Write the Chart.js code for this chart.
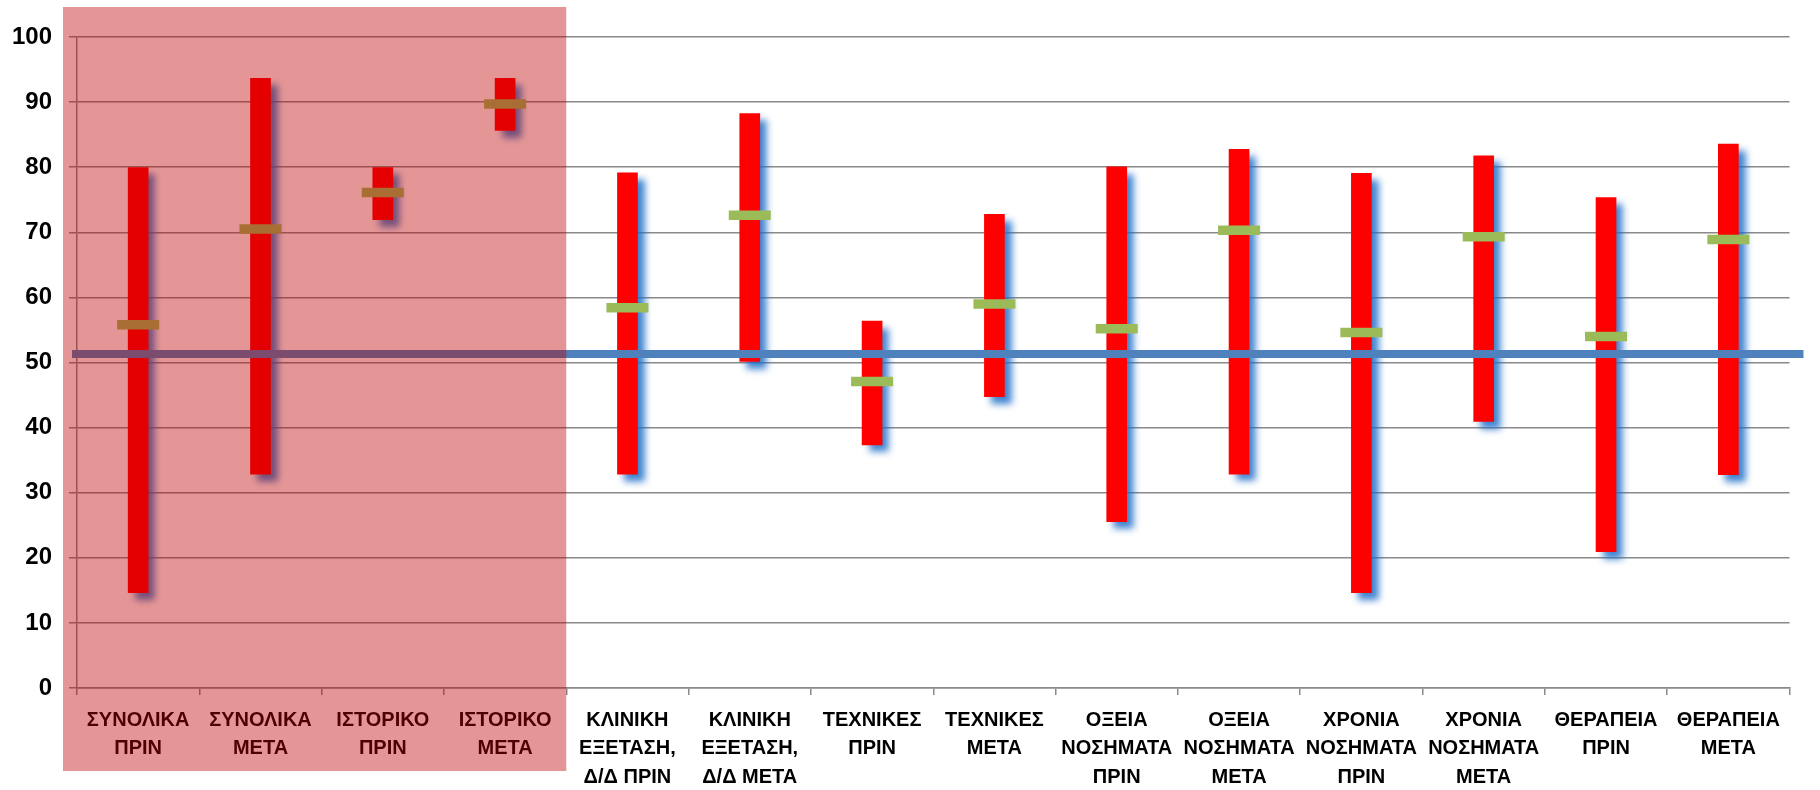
<!DOCTYPE html>
<html>
<head>
<meta charset="utf-8">
<script src="https://cdn.jsdelivr.net/npm/chart.js"></script>
<style>
  body { margin: 0; background: #fff; }
  #chart { display: block; }
</style>
</head>
<body>
<canvas id="chart" width="1820" height="790"></canvas>
<script>
// categories (multi-line labels)
const categories = [
  ['ΣΥΝΟΛΙΚΑ', 'ΠΡΙΝ'], ['ΣΥΝΟΛΙΚΑ', 'ΜΕΤΑ'],
  ['ΙΣΤΟΡΙΚΟ', 'ΠΡΙΝ'], ['ΙΣΤΟΡΙΚΟ', 'ΜΕΤΑ'],
  ['ΚΛΙΝΙΚΗ', 'ΕΞΕΤΑΣΗ,', 'Δ/Δ ΠΡΙΝ'], ['ΚΛΙΝΙΚΗ', 'ΕΞΕΤΑΣΗ,', 'Δ/Δ ΜΕΤΑ'],
  ['ΤΕΧΝΙΚΕΣ', 'ΠΡΙΝ'], ['ΤΕΧΝΙΚΕΣ', 'ΜΕΤΑ'],
  ['ΟΞΕΙΑ', 'ΝΟΣΗΜΑΤΑ', 'ΠΡΙΝ'], ['ΟΞΕΙΑ', 'ΝΟΣΗΜΑΤΑ', 'ΜΕΤΑ'],
  ['ΧΡΟΝΙΑ', 'ΝΟΣΗΜΑΤΑ', 'ΠΡΙΝ'], ['ΧΡΟΝΙΑ', 'ΝΟΣΗΜΑΤΑ', 'ΜΕΤΑ'],
  ['ΘΕΡΑΠΕΙΑ', 'ΠΡΙΝ'], ['ΘΕΡΑΠΕΙΑ', 'ΜΕΤΑ']
];

// min / max / median per category
const lows    = [14.6, 32.8, 71.9, 85.6, 32.8, 50.1, 37.3, 44.7, 25.5, 32.8, 14.6, 40.9, 20.9, 32.7];
const highs   = [80.0, 93.7, 80.0, 93.7, 79.2, 88.3, 56.4, 72.8, 80.1, 82.8, 79.1, 81.8, 75.4, 83.6];
const medians = [55.8, 70.5, 76.1, 89.7, 58.4, 72.6, 47.1, 59.0, 55.2, 70.3, 54.6, 69.3, 54.0, 68.9];

// reference line
const threshold = 51.3;

// y axis ticks
const yTicks = [0, 10, 20, 30, 40, 50, 60, 70, 80, 90, 100];

// number of leading categories covered by the shaded block
const shadedCount = 4;

const ranges = lows.map((lo, i) => [lo, highs[i]]);

// blurred blue shadow under the red bars
const barShadow = {
  id: 'barShadow',
  beforeDatasetDraw(chart, args) {
    if (args.index !== 0) return;
    const ctx = chart.ctx;
    ctx.save();
    ctx.shadowColor = 'rgba(30, 110, 200, 0.85)';
    ctx.shadowBlur = 7;
    ctx.shadowOffsetX = 7;
    ctx.shadowOffsetY = 7;
  },
  afterDatasetDraw(chart, args) {
    if (args.index !== 0) return;
    chart.ctx.restore();
  }
};

// horizontal threshold line + translucent block over the first group
const extras = {
  id: 'extras',
  afterDatasetsDraw(chart) {
    const { ctx, chartArea, scales } = chart;
    const y = scales.y.getPixelForValue(threshold);
    ctx.save();
    ctx.strokeStyle = '#4f81bd';
    ctx.lineWidth = 8;
    ctx.beginPath();
    ctx.moveTo(chartArea.left - 5, y);
    ctx.lineTo(chartArea.right + 14, y);
    ctx.stroke();
    ctx.restore();
  },
  afterDraw(chart) {
    const { ctx, chartArea, scales } = chart;
    const x = scales.x;
    const left = chartArea.left - 14;
    const edge = (x.getPixelForValue(shadedCount - 1) + x.getPixelForValue(shadedCount)) / 2;
    ctx.save();
    ctx.fillStyle = 'rgba(189, 0, 0, 0.41)';
    ctx.fillRect(left, 7, edge - left, 764);
    ctx.restore();
  }
};

new Chart(document.getElementById('chart'), {
  type: 'bar',
  data: {
    labels: categories,
    datasets: [{
      type: 'bar',
      data: ranges,
      backgroundColor: '#ff0000',
      borderWidth: 0,
      borderSkipped: false,
      grouped: false,
      barPercentage: 0.169,
      categoryPercentage: 1.0,
      order: 1
    }, {
      type: 'line',
      data: medians,
      showLine: false,
      pointStyle: 'line',
      pointRadius: 21,
      pointHoverRadius: 21,
      pointBorderWidth: 9.5,
      pointBorderColor: '#9bbb59',
      pointBackgroundColor: '#9bbb59',
      order: 0
    }]
  },
  options: {
    responsive: false,
    animation: false,
    events: [],
    layout: { padding: { top: 37, right: 25, left: 0, bottom: 0 } },
    plugins: { legend: { display: false }, tooltip: { enabled: false } },
    scales: {
      x: {
        afterFit(scale) { scale.height = 102; },
        grid: { display: true, drawOnChartArea: false, tickLength: 7, color: '#8a8a8a', lineWidth: 1.5 },
        border: { color: '#8a8a8a', width: 1.5 },
        ticks: {
          autoSkip: false, maxRotation: 0, minRotation: 0, padding: 11,
          color: '#000',
          font: { family: '"Liberation Sans", Arial, sans-serif', size: 20, weight: 'bold', lineHeight: 1.43 }
        }
      },
      y: {
        min: 0, max: 100,
        afterFit(scale) { scale.width = 77; },
        afterBuildTicks(scale) { scale.ticks = yTicks.map(v => ({ value: v })); },
        grid: { color: '#8a8a8a', lineWidth: 1.5, tickLength: 8 },
        border: { color: '#8a8a8a', width: 1.5 },
        ticks: {
          padding: 17, color: '#000',
          font: { family: '"Liberation Sans", Arial, sans-serif', size: 24, weight: 'bold' }
        }
      }
    }
  },
  plugins: [barShadow, extras]
});
</script>
</body>
</html>
